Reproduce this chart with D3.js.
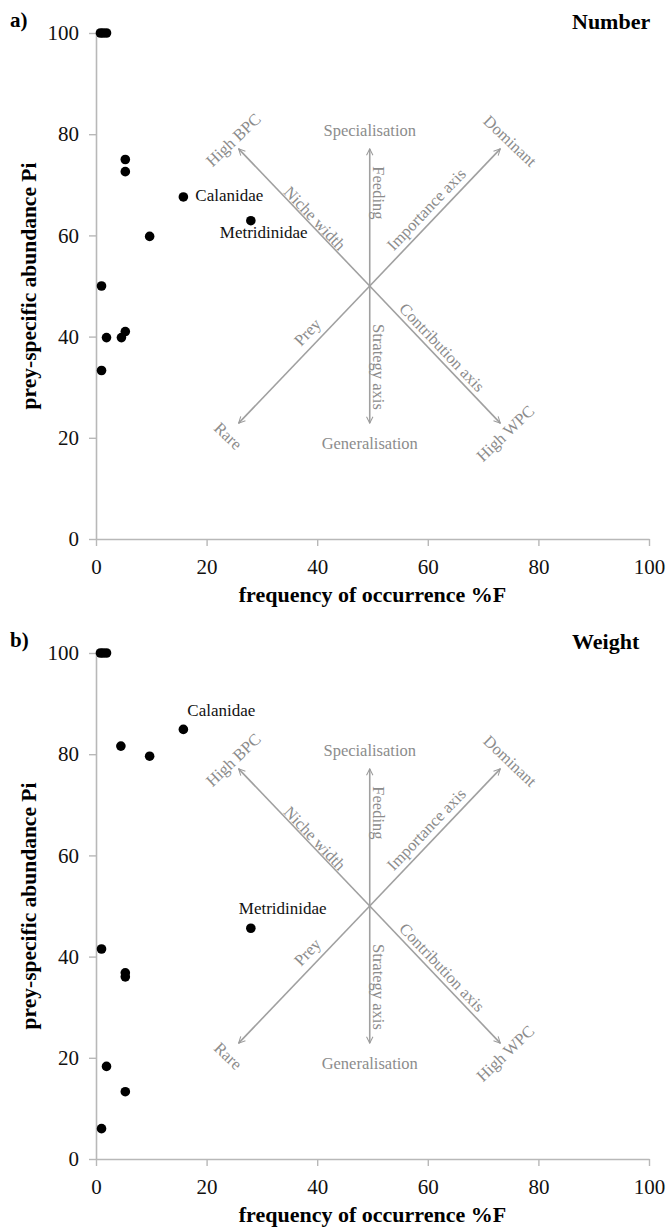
<!DOCTYPE html>
<html>
<head>
<meta charset="utf-8">
<script src="https://cdn.jsdelivr.net/npm/d3@7"></script>
<style>
	body { margin: 0; background: #fff; }
	svg { display: block; }
	text { font-family: "Liberation Serif", "Times New Roman", serif; }
</style>
</head>
<body>
<script>
// panel a) Number
var freqA = [0.8, 1.3, 1.9, 5.3, 5.3, 15.8, 28.0, 9.7, 1.0, 1.0, 1.9, 4.6, 5.3],
	abundA = [100, 100, 100, 75.0, 72.6, 67.6, 62.9, 59.8, 50.0, 33.3, 39.8, 39.8, 41.0];
// panel b) Weight
var freqB = [0.8, 1.3, 1.9, 4.5, 9.7, 15.8, 28.0, 1.0, 5.3, 5.3, 1.9, 5.3, 1.0],
	abundB = [100, 100, 100, 81.6, 79.6, 84.9, 45.6, 41.5, 36.8, 36.0, 18.3, 13.3, 6.0];

var labelNames = ["Calanidae", "Metridinidae"],
	labelFreqA = [15.8, 28.0], labelAbundA = [67.6, 62.9],
	labelFreqB = [15.8, 28.0], labelAbundB = [84.9, 45.6];

var tickValues = [0, 20, 40, 60, 80, 100];

// Costello diagram, in data units
var centre = [49.5, 50],
	arrowEnds = [[49.5, 77.1], [49.5, 22.9], [73.1, 77.1], [25.8, 77.1], [73.1, 22.9], [25.8, 22.9]];

var diagramText = ["Specialisation", "Generalisation", "Feeding", "Strategy axis", "High BPC",
	"Niche width", "Importance axis", "Dominant", "Prey", "Rare", "Contribution axis", "High WPC"];
var diagramX = [49.5, 49.5, 51.1, 51.1, 24.8, 39.6, 59.7, 74.9, 38.2, 23.9, 62.6, 74.0],
	diagramY = [80.8, 19.0, 68.4, 34.0, 78.9, 63.4, 65.2, 78.7, 40.9, 20.4, 37.9, 20.9];
// rotation kind: 0 none, 1 vertical, 2 along arrow up, 3 along arrow down, 4 perp up, 5 perp down
var diagramRot = [0, 0, 1, 1, 4, 3, 2, 5, 2, 5, 3, 4];

var width = 670, height = 1228;

var svg = d3.select("body").append("svg")
	.attr("width", width)
	.attr("height", height);

var defs = svg.append("defs");
defs.append("marker")
	.attr("id", "head")
	.attr("viewBox", "0 0 10 10")
	.attr("refX", 9).attr("refY", 5)
	.attr("markerWidth", 8).attr("markerHeight", 8)
	.attr("markerUnits", "userSpaceOnUse")
	.attr("orient", "auto")
	.append("path")
	.attr("d", "M1,1 L9,5 L1,9")
	.attr("fill", "none")
	.attr("stroke", "#9a9a9a")
	.attr("stroke-width", 1.3);

function drawPanel(offset, letter, title, fx, fy, lx, ly, labelPos) {
	var g = svg.append("g").attr("transform", "translate(0," + offset + ")");

	var x = d3.scaleLinear().domain([0, 100]).range([96, 649]),
		y = d3.scaleLinear().domain([0, 100]).range([539, 33]);

	// axes
	var yAxis = g.append("g")
		.attr("transform", "translate(96,0)")
		.call(d3.axisLeft(y).tickValues(tickValues).tickSize(7).tickSizeOuter(0).tickPadding(10));
	var xAxis = g.append("g")
		.attr("transform", "translate(0,539)")
		.call(d3.axisBottom(x).tickValues(tickValues).tickSize(7).tickSizeOuter(0).tickPadding(13));

	[xAxis, yAxis].forEach(function(a) {
		a.select(".domain").attr("stroke", "#b8b8b8").attr("stroke-width", 1.6);
		a.selectAll(".tick line").attr("stroke", "#b8b8b8").attr("stroke-width", 1.4);
		a.selectAll(".tick text")
			.attr("fill", "#111")
			.style("font-size", "21px")
			.style("font-family", '"Liberation Serif", serif');
	});

	// axis titles
	g.append("text")
		.attr("transform", "translate(36," + y(50) + ") rotate(-90)")
		.attr("text-anchor", "middle")
		.style("font-size", "21.5px")
		.style("font-weight", "bold")
		.text("prey-specific abundance Pi");

	g.append("text")
		.attr("x", x(50))
		.attr("y", 602)
		.attr("text-anchor", "middle")
		.style("font-size", "22px")
		.style("font-weight", "bold")
		.text("frequency of occurrence %F");

	g.append("text")
		.attr("x", 10).attr("y", 27)
		.style("font-size", "21px")
		.style("font-weight", "bold")
		.text(letter);

	g.append("text")
		.attr("x", 572).attr("y", 29)
		.style("font-size", "22px")
		.style("font-weight", "bold")
		.text(title);

	// diagram arrows
	g.selectAll(".arrow")
		.data(arrowEnds)
		.enter().append("line")
		.attr("class", "arrow")
		.attr("x1", x(centre[0]))
		.attr("y1", y(centre[1]))
		.attr("x2", function(d) { return x(d[0]); })
		.attr("y2", function(d) { return y(d[1]); })
		.attr("stroke", "#a0a0a0")
		.attr("stroke-width", 1.6)
		.attr("marker-end", "url(#head)");

	var along = Math.atan2(y(centre[1]) - y(77.1), x(73.1) - x(centre[0])) * 180 / Math.PI,
		perp = 90 - along;

	function rot(k) {
		if (k === 1) return 90;
		if (k === 2) return -along;
		if (k === 3) return along;
		if (k === 4) return -perp;
		if (k === 5) return perp;
		return 0;
	}

	g.selectAll(".dtext")
		.data(diagramText)
		.enter().append("text")
		.attr("class", "dtext")
		.attr("transform", function(d, i) {
			return "translate(" + x(diagramX[i]) + "," + y(diagramY[i]) + ") rotate(" + rot(diagramRot[i]) + ")";
		})
		.attr("text-anchor", "middle")
		.attr("dy", "0.35em")
		.attr("fill", "#8c8c8c")
		.style("font-size", "16.5px")
		.text(function(d) { return d; });

	// points
	g.selectAll("circle")
		.data(fx)
		.enter().append("circle")
		.attr("cx", function(d) { return x(d); })
		.attr("cy", function(d, i) { return y(fy[i]); })
		.attr("r", 4.8)
		.attr("fill", "#000");

	g.selectAll(".plabel")
		.data(labelNames)
		.enter().append("text")
		.attr("class", "plabel")
		.attr("x", function(d, i) { return x(lx[i]) + labelPos[i][0]; })
		.attr("y", function(d, i) { return y(ly[i]) + labelPos[i][1]; })
		.attr("text-anchor", function(d, i) { return labelPos[i][2]; })
		.attr("fill", "#111")
		.style("font-size", "17px")
		.text(function(d) { return d; });
}

drawPanel(0, "a)", "Number", freqA, abundA, labelFreqA, labelAbundA,
	[[12, 4, "start"], [-31, 17, "start"]]);
drawPanel(620, "b)", "Weight", freqB, abundB, labelFreqB, labelAbundB,
	[[4, -13, "start"], [-12, -14, "start"]]);
</script>
</body>
</html>
